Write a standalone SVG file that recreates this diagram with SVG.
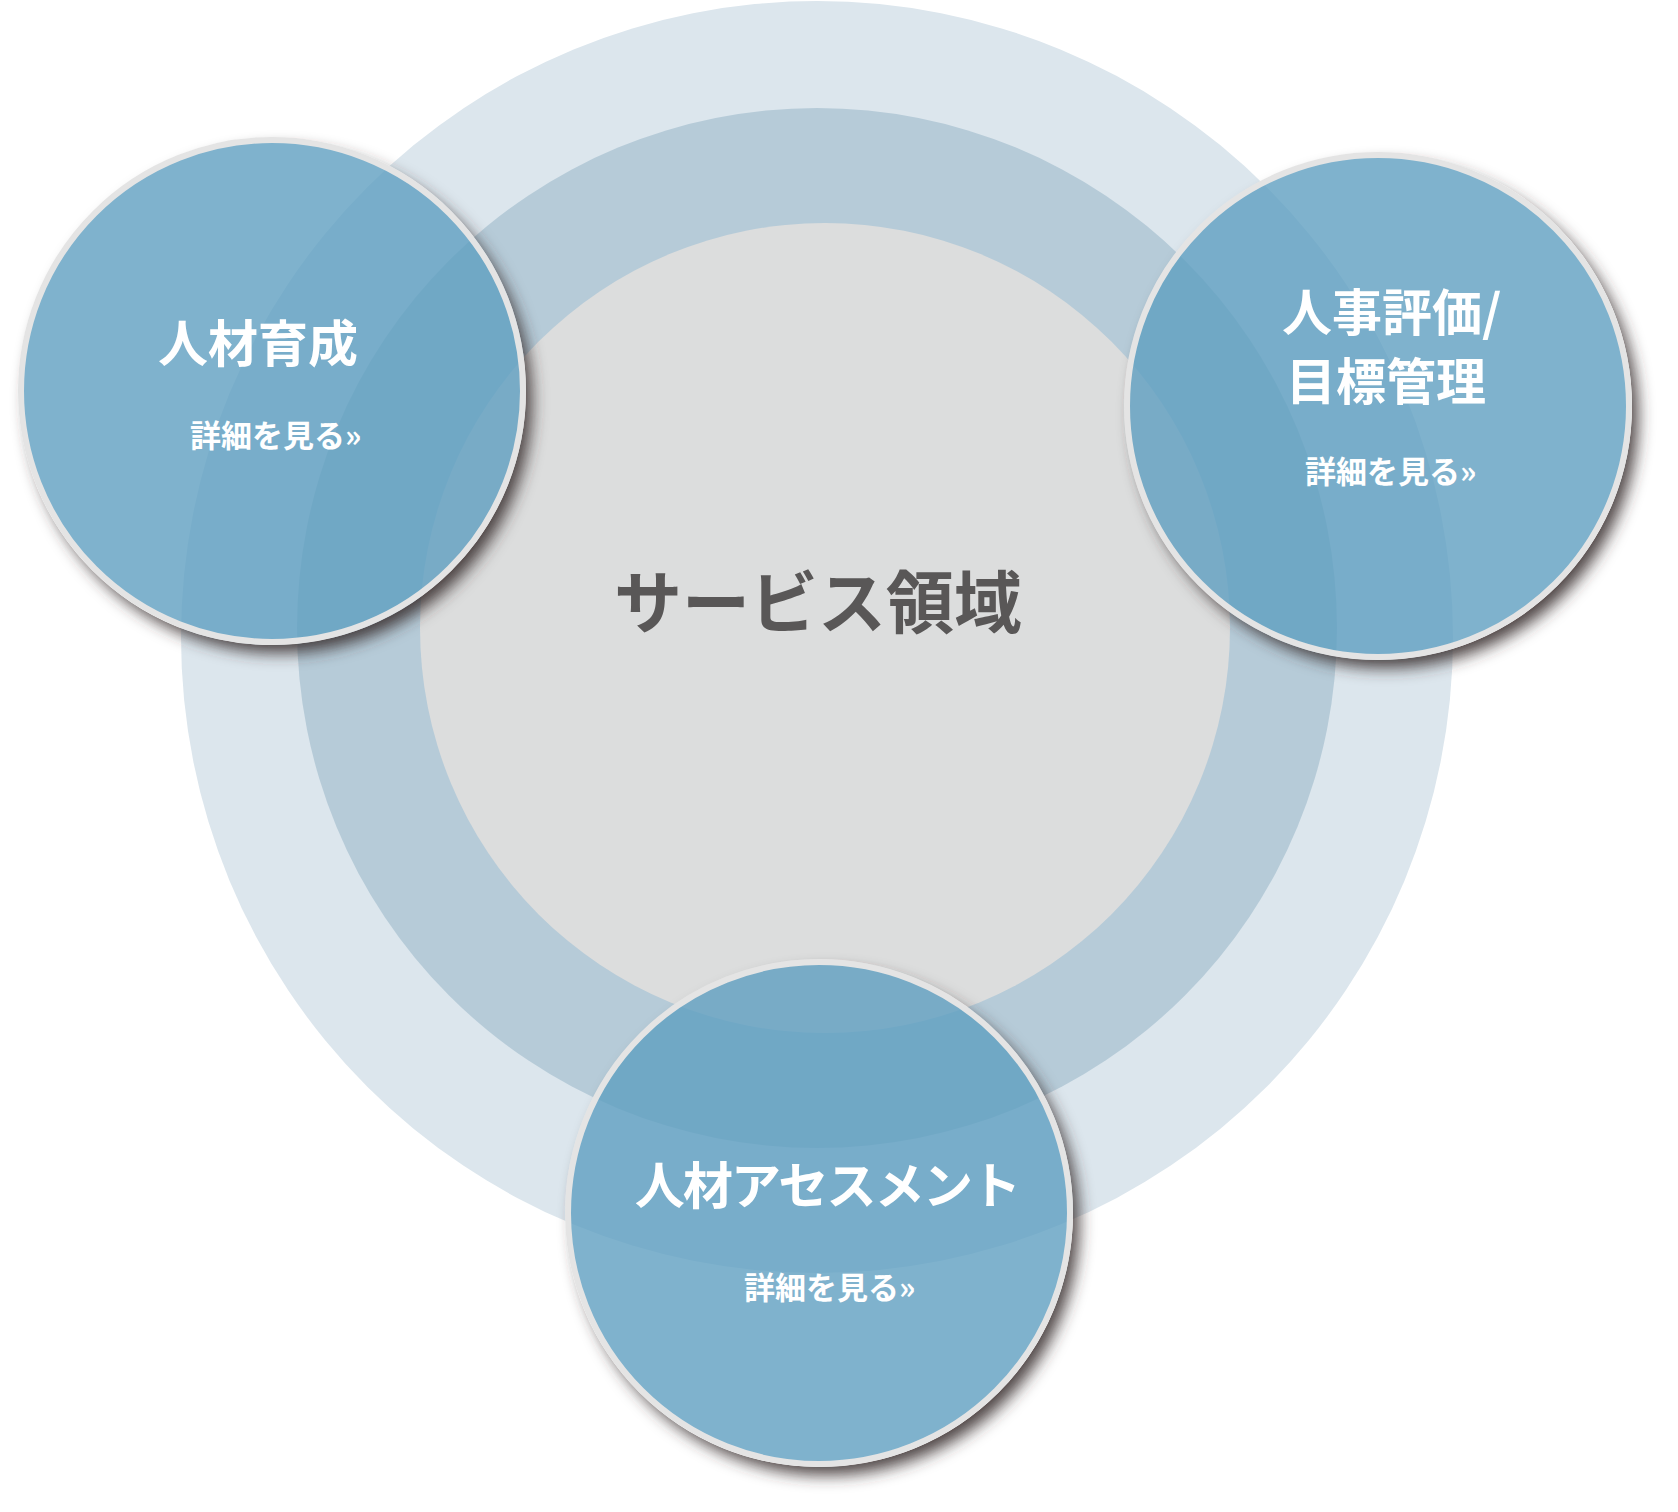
<svg xmlns="http://www.w3.org/2000/svg" width="1678" height="1512" viewBox="0 0 1678 1512">
  <style>
    .ring-outer { fill: #dce6ed; }
    .ring-mid { fill: #b6cbd8; }
    .core { fill: #dcdddd; }
    .center-label { font-family: "Noto Sans CJK JP", "Noto Sans", sans-serif; font-weight: 700; font-size: 68px; fill: #595757; }
    .node { fill: #5f9fc0; fill-opacity: 0.8; stroke: #e4e4e4; stroke-width: 6; }
    .shadow { fill: #3a3232; fill-opacity: 0.9; }
    .title { font-family: "Noto Sans CJK JP", "Noto Sans", sans-serif; font-weight: 700; font-size: 50px; fill: #ffffff; }
    .more { font-family: "Noto Sans CJK JP", "Noto Sans", sans-serif; font-weight: 700; font-size: 31px; fill: #ffffff; }
  </style>
  <defs>
    <filter id="blur" x="-20%" y="-20%" width="140%" height="140%">
      <feGaussianBlur stdDeviation="8"/>
    </filter>
    <clipPath id="out-left">
      <path clip-rule="evenodd" d="M0 0H1678V1512H0Z M272 137A254 254 0 1 0 272 645A254 254 0 1 0 272 137Z"/>
    </clipPath>
    <clipPath id="out-right">
      <path clip-rule="evenodd" d="M0 0H1678V1512H0Z M1378 152A254 254 0 1 0 1378 660A254 254 0 1 0 1378 152Z"/>
    </clipPath>
    <clipPath id="out-bottom">
      <path clip-rule="evenodd" d="M0 0H1678V1512H0Z M819 959A254 254 0 1 0 819 1467A254 254 0 1 0 819 959Z"/>
    </clipPath>
  </defs>

  <g id="background">
    <circle class="ring-outer" cx="817" cy="637" r="636"/>
    <circle class="ring-mid" cx="817" cy="628" r="520"/>
    <circle class="core" cx="825" cy="628" r="405"/>
  </g>

  <g id="center">
    <text class="center-label" x="818" y="628" text-anchor="middle">サービス領域</text>
  </g>

  <g id="connectors"></g>

  <g id="node-left">
    <circle class="shadow" cx="280" cy="401" r="252" filter="url(#blur)" clip-path="url(#out-left)"/>
    <circle class="node" cx="272" cy="391" r="251"/>
    <text class="title" x="258" y="362" text-anchor="middle">人材育成</text>
    <text class="more" x="190" y="447">詳細を見る»</text>
  </g>

  <g id="node-right">
    <circle class="shadow" cx="1386" cy="416" r="252" filter="url(#blur)" clip-path="url(#out-right)"/>
    <circle class="node" cx="1378" cy="406" r="251"/>
    <text class="title" x="1282" y="331">人事評価/</text>
    <text class="title" x="1386" y="400" text-anchor="middle">目標管理</text>
    <text class="more" x="1305" y="483">詳細を見る»</text>
  </g>

  <g id="node-bottom">
    <circle class="shadow" cx="827" cy="1223" r="252" filter="url(#blur)" clip-path="url(#out-bottom)"/>
    <circle class="node" cx="819" cy="1213" r="251"/>
    <text class="title" x="827" y="1204" text-anchor="middle" letter-spacing="-1.8">人材アセスメント</text>
    <text class="more" x="744" y="1299">詳細を見る»</text>
  </g>
</svg>
